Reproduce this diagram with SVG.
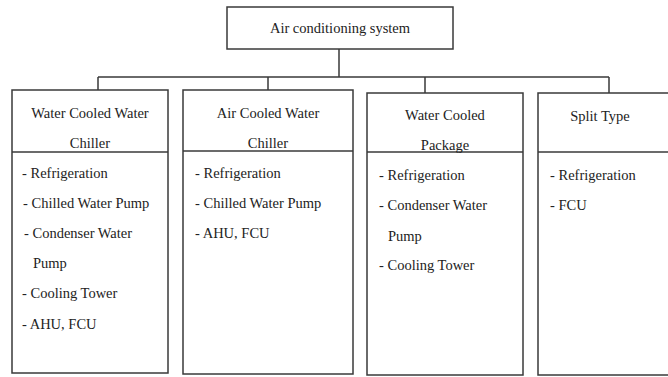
<svg xmlns="http://www.w3.org/2000/svg" width="668" height="377" viewBox="0 0 668 377" font-family="'Liberation Serif', 'DejaVu Serif', serif">
<style>
.box{fill:#fff;stroke:#3a3a3a;stroke-width:1.5}
.ln{stroke:#3a3a3a;stroke-width:1.5;fill:none}
text{font-family:'Liberation Serif','DejaVu Serif',serif;font-size:14.5px;fill:#222}
.c{text-anchor:middle}
</style>
<rect x="0" y="0" width="668" height="377" fill="#fff"/>
<g id="connectors" class="ln">
<path d="M339 49V77M98 77H609M98 77V90M268 77V90M425 77V93M609 77V93"/>
</g>
<g id="root">
<rect class="box" x="227" y="7" width="226" height="42"/>
<text class="c" x="340" y="33">Air conditioning system</text>
</g>
<g id="wcwc">
<rect class="box" x="12" y="90" width="156" height="283"/>
<path class="ln" d="M12 152H168"/>
<text class="c" x="90" y="118">Water Cooled Water</text>
<text class="c" x="90" y="148">Chiller</text>
<text x="22" y="178">- Refrigeration</text>
<text x="23" y="208">- Chilled Water Pump</text>
<text x="24" y="238">- Condenser Water</text>
<text x="33" y="268">Pump</text>
<text x="22" y="298">- Cooling Tower</text>
<text x="22" y="329">- AHU, FCU</text>
</g>
<g id="acwc">
<rect class="box" x="183" y="90" width="170" height="284"/>
<path class="ln" d="M183 151H353"/>
<text class="c" x="268" y="118">Air Cooled Water</text>
<text class="c" x="268" y="148">Chiller</text>
<text x="195" y="178">- Refrigeration</text>
<text x="195" y="208">- Chilled Water Pump</text>
<text x="195" y="238">- AHU, FCU</text>
</g>
<g id="wcp">
<rect class="box" x="367" y="93" width="156" height="282"/>
<path class="ln" d="M367 152H523"/>
<text class="c" x="445" y="120">Water Cooled</text>
<text class="c" x="445" y="150">Package</text>
<text x="379" y="180">- Refrigeration</text>
<text x="379" y="210">- Condenser Water</text>
<text x="388" y="241">Pump</text>
<text x="379" y="270">- Cooling Tower</text>
</g>
<g id="split">
<rect class="box" x="538" y="93" width="140" height="282"/>
<path class="ln" d="M538 152H668"/>
<text class="c" x="600" y="121">Split Type</text>
<text x="550" y="180">- Refrigeration</text>
<text x="550" y="210">- FCU</text>
</g>
</svg>
